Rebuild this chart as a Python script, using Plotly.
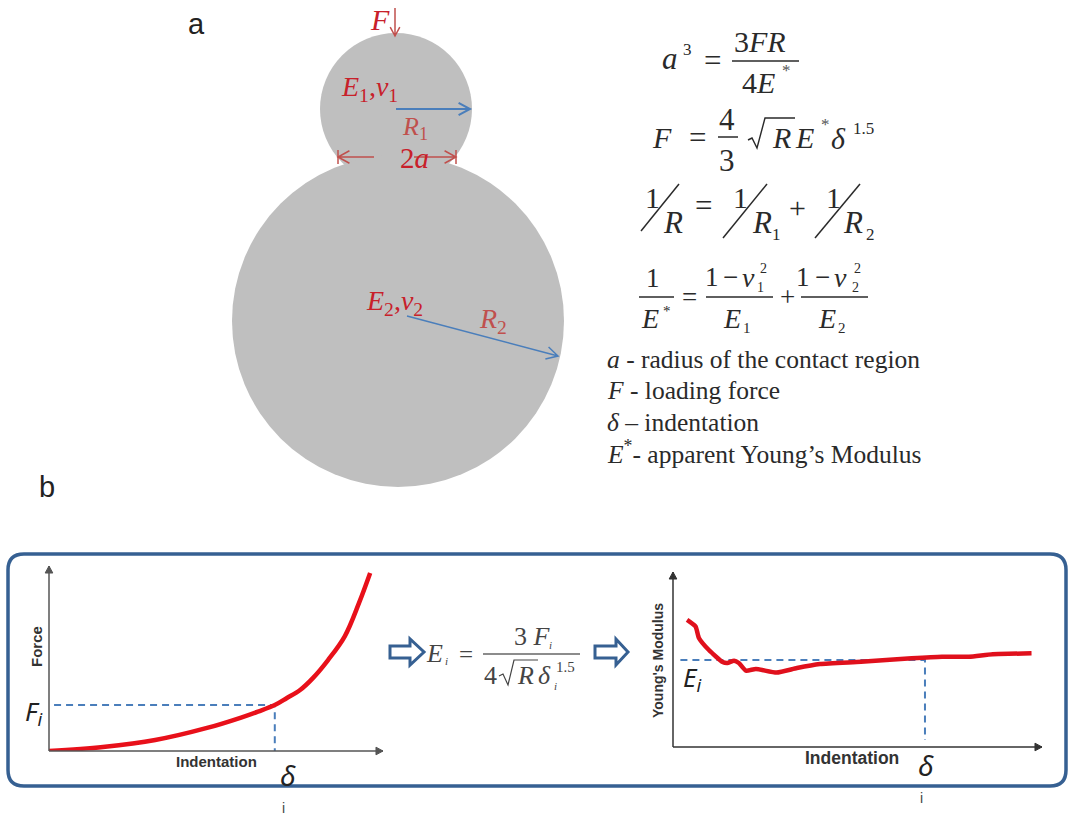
import math
import plotly.graph_objects as go

W, H = 1069, 824

# ---- data of the two curve panels (axis units 0-100) ----
force_indentation = [0, 16, 31.5, 46.9, 57, 62, 67, 70.6, 74.5, 78.3, 82.8, 87.8, 92, 95.3]
force_values = [0, 2.2, 5.9, 12.4, 18, 21.2, 24.7, 28.5, 32.8, 39.2, 48.9, 61.8, 79.6, 95.7]
force_delta_i = 67
force_f_i = 24.7

modulus_indentation = [3.8, 6.1, 7, 9.7, 13.4, 14.7, 16.5, 17.8, 19.7, 22.4, 28, 33.5,
                       39.7, 50.8, 64.5, 72.7, 80, 86.4, 96.9]
modulus_values = [72.6, 68.8, 62.3, 55.4, 48.6, 48, 49.3, 48, 43.6, 44.6, 42.5, 45.1,
                  47.4, 48.7, 50.7, 51.6, 51.6, 53, 53.5]
modulus_delta_i = 68.1
modulus_e_i = 49.7

legend_lines = ["<i>a</i> - radius of the contact region",
                "<i>F</i> - loading force",
                "<i>δ</i> – indentation",
                "<i>E</i><sup>*</sup>- apparent Young’s Modulus"]

RED = "#c8202a"
PINK = "#c0504d"
BLUE = "#4a7ebb"
DARK = "#366092"
INK = "#2a2a2a"
GREY = "#bfbfbf"
AXIS = "#555555"
SERIF = "Liberation Serif"
SANS = "Liberation Sans"
CAL = "Noto Sans"

fig = go.Figure()
shapes, annos = [], []


def txt(x, y, t, size=24, color=INK, font=SERIF, angle=0, anchor="center"):
    annos.append(dict(x=x, y=y, xref="x", yref="y", text=t, showarrow=False,
                      font=dict(size=size, color=color, family=font),
                      xanchor=anchor, yanchor="middle", textangle=angle))


def seg(x0, y0, x1, y1, color=INK, w=1.5):
    shapes.append(dict(type="line", x0=x0, y0=y0, x1=x1, y1=y1, xref="x", yref="y",
                       line=dict(color=color, width=w)))


def arrow(x0, y0, x1, y1, color, w=1.5, head=11, solid=False):
    a = math.atan2(y1 - y0, x1 - x0)
    hx0 = x1 - head * math.cos(a - 0.5)
    hy0 = y1 - head * math.sin(a - 0.5)
    hx1 = x1 - head * math.cos(a + 0.5)
    hy1 = y1 - head * math.sin(a + 0.5)
    if solid:
        p = f"M{hx0},{hy0} L{x1},{y1} L{hx1},{hy1} Z"
        shapes.append(dict(type="path", path=p, xref="x", yref="y", fillcolor=color,
                           line=dict(color=color, width=1)))
        seg(x0, y0, x1, y1, color, w)
    else:
        p = f"M{x0},{y0} L{x1},{y1} M{hx0},{hy0} L{x1},{y1} L{hx1},{hy1}"
        shapes.append(dict(type="path", path=p, xref="x", yref="y",
                           line=dict(color=color, width=w)))


def circle(cx, cy, r):
    shapes.append(dict(type="circle", x0=cx - r, x1=cx + r, y0=cy - r, y1=cy + r,
                       xref="x", yref="y", fillcolor=GREY, line=dict(width=0), layer="below"))


def hollow(x0, x1, xh, y):
    p = (f"M{x0},{y-6} L{xh},{y-6} L{xh},{y-13} L{x1},{y} L{xh},{y+13} L{xh},{y+6} "
         f"L{x0},{y+6} Z")
    shapes.append(dict(type="path", path=p, xref="x", yref="y", fillcolor="white",
                       line=dict(color=DARK, width=3)))


# ---- panel a diagram ----
circle(396, 109, 76)
circle(398, 321, 166)
txt(196, 24, "a", 29, "#222222", SANS)
txt(47, 487, "b", 29, "#222222", SANS)
txt(380, 19, "<i>F</i>", 30, RED)
arrow(395, 8, 395, 36, PINK, 1.5, 10)
txt(369, 88, "<i>E</i><sub>1</sub>,<i>v</i><sub>1</sub>", 28, RED)
arrow(396, 109, 470, 109, BLUE, 2, 13)
txt(415, 128, "<i>R</i><sub>1</sub>", 26, PINK)
txt(414, 158, "2<i>a</i>", 29, RED)
arrow(374, 157, 338, 157, PINK, 1.5, 13)
arrow(414, 157, 456, 157, PINK, 1.5, 13)
seg(338, 150, 338, 164, PINK, 1.5)
seg(456, 150, 456, 164, PINK, 1.5)
txt(394, 302, "<i>E</i><sub>2</sub>,<i>v</i><sub>2</sub>", 28, RED)
arrow(407, 316, 558, 356, BLUE, 1.5, 13)
txt(493, 320, "<i>R</i><sub>2</sub>", 28, PINK)

# ---- equations ----
txt(670, 58, "<i>a</i>", 31)
txt(687, 49, "3", 17)
txt(712, 60, "=", 31)
txt(760, 41, "3<i>FR</i>", 30)
seg(732, 61, 799, 61)
txt(758, 82, "4<i>E</i>", 30)
txt(786, 70, "*", 17, "#555555")

txt(662, 137, "<i>F</i>", 30)
txt(697, 137, "=", 31)
txt(727, 119, "4", 31)
seg(718, 137, 738, 137)
txt(727, 160, "3", 31)
shapes.append(dict(type="path", path="M748,140 L752,138 L757,148 L765,118 L795,118",
                   xref="x", yref="y", line=dict(color=INK, width=1.4)))
txt(781, 137, "<i>R</i>", 30)
txt(804, 137, "<i>E</i>", 30)
txt(825, 124, "*", 17, "#555555")
txt(838, 138, "<i>δ</i>", 30)
txt(863, 128, "1.5", 17)

seg(641, 231, 679, 184)
txt(652, 197, "1", 30)
txt(673, 222, "<i>R</i>", 31)
txt(703, 205, "=", 31)
seg(723, 238, 767, 184)
txt(740, 197, "1", 30)
txt(762, 222, "<i>R</i>", 31)
txt(776, 234, "1", 17)
txt(797, 207, "+", 30)
seg(815, 238, 860, 184)
txt(833, 197, "1", 30)
txt(853, 222, "<i>R</i>", 31)
txt(870, 234, "2", 17)

txt(653, 278, "1", 27)
seg(639, 297, 674, 297)
txt(650, 318, "<i>E</i>", 28)
txt(667, 311, "*", 15)
txt(689, 297, "=", 27)
txt(712, 277, "1", 27)
txt(730, 277, "−", 27)
txt(748, 277, "<i>ν</i>", 28)
txt(763, 268, "2", 14)
txt(760, 287, "1", 14)
seg(706, 297, 773, 297)
txt(732, 318, "<i>E</i>", 28)
txt(747, 328, "1", 15)
txt(787, 297, "+", 27)
txt(803, 277, "1", 27)
txt(822, 277, "−", 27)
txt(840, 277, "<i>ν</i>", 28)
txt(857, 268, "2", 14)
txt(855, 287, "2", 14)
seg(801, 297, 868, 297)
txt(827, 318, "<i>E</i>", 28)
txt(842, 328, "2", 15)

for yy, line in zip([359, 390, 422, 452], legend_lines):
    txt(605, yy, line, 25.5, INK, SERIF, anchor="left")

# ---- panel b frame ----
r = 16
l, t, rr, b = 8, 554, 1066, 786
frame = (f"M{l+r},{t} L{rr-r},{t} Q{rr},{t} {rr},{t+r} L{rr},{b-r} Q{rr},{b} {rr-r},{b} "
         f"L{l+r},{b} Q{l},{b} {l},{b-r} L{l},{t+r} Q{l},{t} {l+r},{t} Z")
shapes.append(dict(type="path", path=frame, xref="x", yref="y",
                   line=dict(color=DARK, width=3.5)))

# axis arrowheads
arrow(49, 751, 49, 566, AXIS, 1.5, 8, True)
arrow(49, 751, 383, 751, AXIS, 1.5, 8, True)
arrow(673, 747, 673, 572, "#333333", 1.5, 8, True)
arrow(673, 747, 1042, 747, "#333333", 1.5, 8, True)

# centre formula
hollow(390, 424, 410, 652)
hollow(595, 628, 616, 652)
txt(434, 653, "<i>E</i>", 26, "#444444")
txt(446, 661, "<i>i</i>", 11, "#444444")
txt(466, 654, "=", 25, "#444444")
seg(483, 654, 580, 654, "#666666", 1.3)
txt(532, 636, "3 <i>F</i>", 26, "#444444")
txt(550, 645, "<i>i</i>", 11, "#444444")
txt(490, 675, "4", 26, "#444444")
shapes.append(dict(type="path", path="M499,676 L503,674 L508,685 L514,660 L538,660",
                   xref="x", yref="y", line=dict(color="#444444", width=1.2)))
txt(525, 675, "<i>R</i>", 26, "#444444")
txt(544, 675, "<i>δ</i>", 26, "#444444")
txt(565, 667, "1.5", 15, "#444444")
txt(555, 686, "<i>i</i>", 11, "#444444")

# panel b labels
txt(36, 647, "<b>Force</b>", 15, "#333333", SANS, -90)
txt(216, 761, "<b>Indentation</b>", 15, "#333333", SANS)
txt(33, 712, "<i>F<sub>i</sub></i>", 26, "#222222", CAL)
txt(288, 775, "<i>δ</i>", 28, "#222222", CAL)
txt(283, 808, "i", 14, "#444444", SANS)
txt(658, 661, "<b>Young's Modulus</b>", 14, "#333333", SANS, -90)
txt(852, 758, "<b>Indentation</b>", 17.5, "#333333", SANS)
txt(692, 678, "<i>E<sub>i</sub></i>", 26, "#222222", CAL)
txt(926, 765, "<i>δ</i>", 28, "#222222", CAL)
txt(921, 798, "i", 14, "#444444", SANS)

# ---- curve panels through their own axes ----
fig.add_trace(go.Scatter(x=[0, 1069], y=[0, 824], mode="markers", marker=dict(opacity=0),
                         xaxis="x", yaxis="y", hoverinfo="skip", showlegend=False))
fig.add_trace(go.Scatter(x=[1.5, force_delta_i, force_delta_i], y=[force_f_i, force_f_i, 0],
                         mode="lines", line=dict(color=BLUE, width=2, dash="7px,5px"),
                         xaxis="x2", yaxis="y2", showlegend=False))
fig.add_trace(go.Scatter(x=force_indentation, y=force_values, mode="lines",
                         line=dict(color="#e8101a", width=4.5, shape="spline", smoothing=1),
                         xaxis="x2", yaxis="y2", showlegend=False))
fig.add_trace(go.Scatter(x=[2, modulus_delta_i, modulus_delta_i], y=[modulus_e_i, modulus_e_i, 4],
                         mode="lines", line=dict(color=BLUE, width=2, dash="7px,5px"),
                         xaxis="x3", yaxis="y3", showlegend=False))
fig.add_trace(go.Scatter(x=modulus_indentation, y=modulus_values, mode="lines",
                         line=dict(color="#e0101c", width=4.5, shape="spline", smoothing=0.5),
                         xaxis="x3", yaxis="y3", showlegend=False))


def panel_axis(domain, anchor):
    return dict(domain=domain, anchor=anchor, range=[0, 100], showgrid=False, zeroline=False,
                showticklabels=False, ticks="", showline=False, fixedrange=True)


fig.update_layout(
    width=W, height=H, margin=dict(l=0, r=0, t=0, b=0), autosize=False,
    paper_bgcolor="white", plot_bgcolor="rgba(0,0,0,0)", showlegend=False,
    xaxis=dict(domain=[0, 1], range=[0, W], visible=False, fixedrange=True),
    yaxis=dict(domain=[0, 1], range=[H, 0], visible=False, fixedrange=True),
    xaxis2=panel_axis([49 / W, 386 / W], "y2"),
    yaxis2=panel_axis([1 - 751 / H, 1 - 565 / H], "x2"),
    xaxis3=panel_axis([673 / W, 1043 / W], "y3"),
    yaxis3=panel_axis([1 - 747 / H, 1 - 572 / H], "x3"),
    shapes=shapes, annotations=annos,
)

fig.write_html("out.html", config=dict(displayModeBar=False),
               post_script="document.body.style.margin='0';document.body.style.overflow='hidden';")
